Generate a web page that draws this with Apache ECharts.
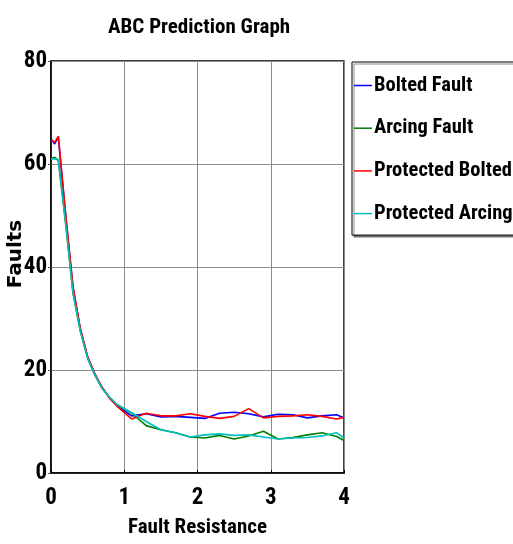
<!DOCTYPE html>
<html>
<head>
<meta charset="utf-8">
<script src="https://cdn.jsdelivr.net/npm/echarts@6/dist/echarts.min.js"></script>
<style>
  html, body { margin: 0; padding: 0; background: #fff; }
  #chart { width: 513px; height: 544px; }
</style>
</head>
<body>
<div id="chart"></div>
<script>
// fault resistance samples
var xValues = [0, 0.05, 0.1, 0.2, 0.3, 0.4, 0.5, 0.6, 0.7, 0.8, 0.9, 1.1, 1.3, 1.5, 1.7, 1.9, 2.1, 2.3, 2.5, 2.7, 2.9, 3.1, 3.3, 3.5, 3.7, 3.9, 4.0];

var bolted =          [64.9, 63.9, 65.2, 50.0, 36.0, 28.0, 22.5, 19.2, 16.5, 14.6, 13.1, 11.1, 11.5, 10.9, 11.0, 10.8, 10.6, 11.6, 11.8, 11.5, 10.9, 11.4, 11.3, 10.7, 11.1, 11.3, 10.7];
var arcing =          [61.0, 61.3, 60.7, 48.5, 35.0, 27.6, 22.3, 19.0, 16.4, 14.7, 13.3, 11.6, 9.2, 8.4, 7.8, 7.0, 6.8, 7.3, 6.6, 7.2, 8.1, 6.6, 6.9, 7.4, 7.8, 7.1, 6.3];
var protectedBolted = [64.7, 64.2, 65.4, 50.3, 36.3, 28.1, 22.6, 19.2, 16.6, 14.5, 13.0, 10.5, 11.6, 11.1, 11.1, 11.5, 11.0, 10.6, 11.0, 12.5, 10.7, 11.0, 11.1, 11.3, 11.0, 10.5, 10.8];
var protectedArcing = [61.0, 61.0, 60.8, 48.5, 35.0, 27.6, 22.3, 19.0, 16.4, 14.7, 13.3, 11.7, 10.0, 8.4, 7.8, 7.0, 7.4, 7.6, 7.3, 7.4, 7.0, 6.6, 6.8, 6.9, 7.2, 7.8, 6.8];

var seriesNames = ["Bolted Fault", "Arcing Fault", "Protected Bolted", "Protected Arcing"];
var seriesColors = ["#0000ff", "#008000", "#ff0000", "#00bfbf"];
var seriesValues = [bolted, arcing, protectedBolted, protectedArcing];

var narrow = '"Roboto Condensed", "Liberation Sans", sans-serif';

function pairs(vals) {
  return xValues.map(function (x, i) { return [x, vals[i]]; });
}

var chart = echarts.init(document.getElementById("chart"));

chart.setOption({
  backgroundColor: "#fff",
  animation: false,
  title: {
    text: "ABC Prediction Graph",
    left: 103,
    top: 12,
    textStyle: { fontFamily: narrow, fontWeight: "bold", fontSize: 21, color: "#000" }
  },
  grid: {
    left: 51, right: 169, top: 61, bottom: 71,
    containLabel: false,
    outerBoundsMode: "none",
    show: true, borderColor: "#000", borderWidth: 1.5
  },
  legend: {
    orient: "vertical",
    left: 352,
    top: 62,
    padding: [13, 30, 11, 2],
    itemGap: 21.7,
    itemWidth: 18,
    itemHeight: 1.5,
    icon: "rect",
    backgroundColor: "#fff",
    borderColor: "#000",
    borderWidth: 1,
    shadowColor: "rgba(0,0,0,0.45)",
    shadowOffsetX: 2,
    shadowOffsetY: 2,
    textStyle: { fontFamily: narrow, fontWeight: "bold", fontSize: 20.5, color: "#000", padding: [0, 0, 0, -3] },
    data: seriesNames
  },
  xAxis: {
    type: "value",
    min: 0, max: 4, interval: 1,
    name: "Fault Resistance",
    nameLocation: "middle",
    nameGap: 44,
    nameMoveOverlap: false,
    nameTextStyle: { fontFamily: narrow, fontWeight: "bold", fontSize: 21, color: "#000" },
    axisLine: { lineStyle: { color: "#000", width: 1.5 } },
    axisTick: { show: true, inside: true, length: 3, lineStyle: { color: "#000" } },
    axisLabel: { fontFamily: narrow, fontWeight: "bold", fontSize: 23, color: "#000", margin: 14 },
    splitLine: { show: true, lineStyle: { color: "#8c8c8c", width: 1 } }
  },
  yAxis: {
    type: "value",
    min: 0, max: 80, interval: 20,
    name: "Faults",
    nameLocation: "middle",
    nameGap: 25,
    nameMoveOverlap: false,
    nameTextStyle: { fontFamily: '"DejaVu Sans", sans-serif', fontWeight: "bold", fontSize: 20, color: "#000", padding: [0, 0, 0, 26] },
    axisLine: { lineStyle: { color: "#000", width: 1.5 } },
    axisTick: { show: true, length: 3, lineStyle: { color: "#555" } },
    axisLabel: { fontFamily: narrow, fontWeight: "bold", fontSize: 23, color: "#000", margin: 4 },
    splitLine: { show: true, lineStyle: { color: "#8c8c8c", width: 1 } }
  },
  series: seriesNames.map(function (name, i) {
    return {
      name: name,
      type: "line",
      symbol: "none",
      data: pairs(seriesValues[i]),
      itemStyle: { color: seriesColors[i] },
      lineStyle: { color: seriesColors[i], width: 1.6 }
    };
  })
});
</script>
</body>
</html>
